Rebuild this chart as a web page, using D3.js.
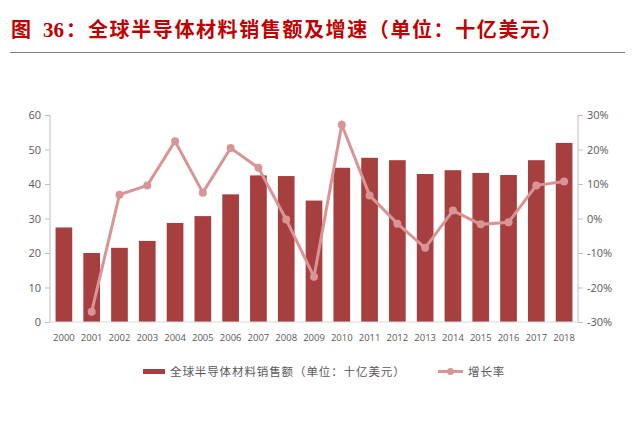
<!DOCTYPE html>
<html>
<head>
<meta charset="utf-8">
<script src="https://cdn.jsdelivr.net/npm/d3@7"></script>
<style>
  body { margin: 0; background: #fff; }
  svg text { font-family: "Open Sans", "Noto Sans CJK SC", sans-serif; }
</style>
</head>
<body>
<div id="chart"></div>
<script>
var years = ["2000", "2001", "2002", "2003", "2004", "2005", "2006", "2007", "2008", "2009",
  "2010", "2011", "2012", "2013", "2014", "2015", "2016", "2017", "2018"];
var sales = [27.4, 20.0, 21.5, 23.5, 28.7, 30.7, 37.0, 42.5, 42.3, 35.2,
  44.7, 47.6, 46.9, 42.9, 44.0, 43.2, 42.6, 46.9, 51.9];
// growth starts at 2001
var growthYears = years.slice(1);
var growth = [-27.0, 6.9, 9.6, 22.4, 7.5, 20.4, 14.7, -0.3, -16.9,
  27.2, 6.7, -1.5, -8.5, 2.3, -1.7, -1.1, 9.6, 10.7];
var leftTicks = [0, 10, 20, 30, 40, 50, 60];
var rightTicks = [-30, -20, -10, 0, 10, 20, 30];

var svgWidth = 640, svgHeight = 440;
var margin = { top: 115, right: 62, bottom: 118, left: 50 };
var width = svgWidth - margin.left - margin.right;
var height = svgHeight - margin.top - margin.bottom;

var barColor = "#a83f3f";
var lineColor = "#d99596";
var textColor = "#595959";
var cjk = "'Noto Sans CJK SC', sans-serif";

var svg = d3.select("#chart").append("svg")
  .attr("width", svgWidth)
  .attr("height", svgHeight);

// title
var title = svg.append("text")
  .attr("y", 37)
  .attr("fill", "#c00000")
  .style("font-weight", "bold")
  .style("font-size", "20px");
title.append("tspan").attr("x", 11).style("font-family", cjk).text("图");
title.append("tspan").attr("x", 43).style("font-family", "'Liberation Serif', serif")
  .style("font-size", "21px").text("36");
title.append("tspan").attr("x", 66).style("font-family", cjk).text("：");
title.append("tspan").attr("x", 88).style("font-family", cjk)
  .style("letter-spacing", "1.6px")
  .text("全球半导体材料销售额及增速（单位：十亿美元）");

svg.append("line")
  .attr("x1", 10).attr("x2", 625)
  .attr("y1", 52.5).attr("y2", 52.5)
  .attr("stroke", "#7f7f7f")
  .attr("stroke-width", 1.2);

var chartGroup = svg.append("g")
  .attr("transform", `translate(${margin.left}, ${margin.top})`);

var x = d3.scaleBand()
  .domain(years)
  .range([0, width])
  .paddingInner(0.4)
  .paddingOuter(0.2);

var yLeft = d3.scaleLinear().domain([0, 60]).range([height, 0]);
var yRight = d3.scaleLinear().domain([-30, 30]).range([height, 0]);

// bars
chartGroup.selectAll("rect.bar")
  .data(sales)
  .enter()
  .append("rect")
  .attr("class", "bar")
  .attr("x", (d, i) => x(years[i]))
  .attr("y", d => yLeft(d))
  .attr("width", x.bandwidth())
  .attr("height", d => height - yLeft(d))
  .attr("fill", barColor);

// axes
var leftAxis = d3.axisLeft(yLeft).tickValues(leftTicks).tickSize(5).tickPadding(4);
var rightAxis = d3.axisRight(yRight).tickValues(rightTicks).tickSize(5).tickPadding(4)
  .tickFormat(d => d + "%");
var bottomAxis = d3.axisBottom(x).tickSize(0).tickPadding(12);

var gl = chartGroup.append("g").call(leftAxis);
var gr = chartGroup.append("g").attr("transform", `translate(${width}, 0)`).call(rightAxis);
var gb = chartGroup.append("g").attr("transform", `translate(0, ${height})`).call(bottomAxis);

[gl, gr, gb].forEach(function(g) {
  g.selectAll("path").attr("stroke", "#bfbfbf");
  g.selectAll("line").attr("stroke", "#bfbfbf");
  g.selectAll("text").attr("fill", textColor).style("font-size", "11px");
});
gb.selectAll("text").style("font-size", "9.5px");
gl.select("path").attr("d", `M0,${height}V0`);
gr.select("path").attr("d", `M0,${height}V0`);
gb.select("path").attr("d", `M0,0H${width}`).attr("stroke", "#d9d9d9");

// growth line
var line = d3.line()
  .x((d, i) => x(growthYears[i]) + x.bandwidth() / 2)
  .y(d => yRight(d));

chartGroup.append("path")
  .datum(growth)
  .attr("d", line)
  .attr("fill", "none")
  .attr("stroke", lineColor)
  .attr("stroke-width", 3);

chartGroup.selectAll("circle.pt")
  .data(growth)
  .enter()
  .append("circle")
  .attr("class", "pt")
  .attr("cx", (d, i) => x(growthYears[i]) + x.bandwidth() / 2)
  .attr("cy", d => yRight(d))
  .attr("r", 4)
  .attr("fill", lineColor);

// legend
var legend = svg.append("g");
legend.append("rect")
  .attr("x", 143).attr("y", 369)
  .attr("width", 22).attr("height", 5)
  .attr("fill", barColor);
legend.append("text")
  .attr("x", 170).attr("y", 376)
  .attr("fill", textColor)
  .style("font-family", cjk)
  .style("font-size", "11.5px")
  .style("letter-spacing", "0.9px")
  .text("全球半导体材料销售额（单位：十亿美元）");

legend.append("line")
  .attr("x1", 438).attr("x2", 463)
  .attr("y1", 371.5).attr("y2", 371.5)
  .attr("stroke", lineColor)
  .attr("stroke-width", 3);
legend.append("circle")
  .attr("cx", 450.5).attr("cy", 371.5).attr("r", 3.5)
  .attr("fill", lineColor);
legend.append("text")
  .attr("x", 468).attr("y", 376)
  .attr("fill", textColor)
  .style("font-family", cjk)
  .style("font-size", "11.5px")
  .style("letter-spacing", "0.9px")
  .text("增长率");
</script>
</body>
</html>
